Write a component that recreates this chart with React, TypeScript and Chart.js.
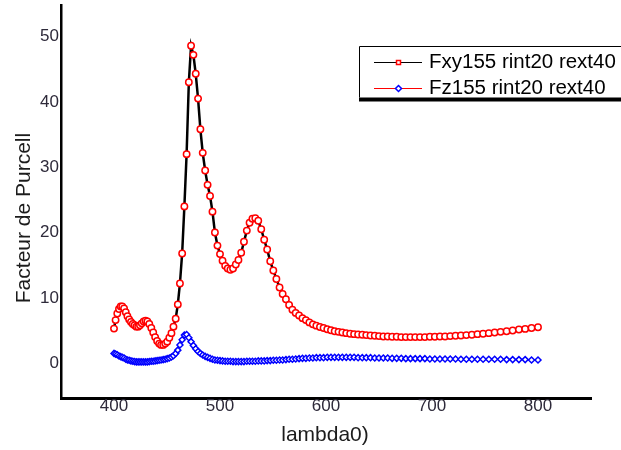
import React, { useEffect, useRef } from "react";
import { Chart, registerables } from "chart.js";

Chart.register(...registerables);

const lambdas = [
  400.0, 401.5, 403.1, 404.7, 406.3, 407.8, 409.5, 411.1, 412.7, 414.3,
  416.0, 417.7, 419.4, 421.1, 422.8, 424.5, 426.2, 428.0, 429.8, 431.5,
  433.3, 435.2, 437.0, 438.8, 440.7, 442.6, 444.4, 446.4, 448.3, 450.2,
  452.2, 454.2, 456.1, 458.2, 460.2, 462.2, 464.3, 466.4, 468.5, 470.6,
  472.7, 474.9, 477.1, 479.3, 481.5, 483.7, 486.0, 488.3, 490.6, 492.9,
  495.2, 497.6, 500.0, 502.4, 504.9, 507.3, 509.8, 512.3, 514.9, 517.4,
  520.0, 522.6, 525.3, 527.9, 530.6, 533.3, 536.1, 538.9, 541.7, 544.5,
  547.4, 550.3, 553.2, 556.2, 559.1, 562.2, 565.2, 568.3, 571.4, 574.6,
  577.8, 581.0, 584.3, 587.6, 590.9, 594.3, 597.7, 601.2, 604.7, 608.2,
  611.8, 615.4, 619.1, 622.8, 626.5, 630.3, 634.2, 638.0, 642.0, 646.0,
  650.0, 654.1, 658.2, 662.4, 666.7, 671.0, 675.3, 679.7, 684.2, 688.7,
  693.3, 698.0, 702.7, 707.5, 712.3, 717.2, 722.2, 727.3, 732.4, 737.6,
  742.9, 748.2, 753.6, 759.1, 764.7, 770.4, 776.1, 782.0, 787.9, 793.9,
  800.0,
];

const fxy155 = [
  5.3, 6.6, 7.6, 8.3, 8.7, 8.7, 8.4, 7.8, 7.2, 6.7,
  6.3, 6.0, 5.8, 5.6, 5.6, 5.8, 6.1, 6.4, 6.5, 6.4,
  6.0, 5.4, 4.7, 4.0, 3.4, 3.0, 2.8, 2.8, 3.0, 3.3,
  3.9, 4.6, 5.6, 6.8, 9.0, 12.2, 16.8, 24.0, 32.0, 43.0,
  48.6, 47.2, 44.3, 40.5, 35.8, 32.2, 29.5, 27.3, 25.6, 23.2,
  20.0, 18.0, 16.7, 15.7, 14.9, 14.5, 14.3, 14.5, 15.1, 15.8,
  16.9, 18.6, 20.3, 21.5, 22.1, 22.2, 21.8, 20.5, 18.9, 17.4,
  15.6, 14.2, 12.9, 11.6, 10.6, 9.8, 8.9, 8.2, 7.7, 7.3,
  6.9, 6.6, 6.25, 5.95, 5.75, 5.55, 5.4, 5.2, 5.05, 4.9,
  4.8, 4.7, 4.6, 4.5, 4.45, 4.4, 4.35, 4.3, 4.25, 4.2,
  4.15, 4.1, 4.1, 4.05, 4.05, 4.0, 4.0, 4.0, 4.0, 4.0,
  4.0, 4.05, 4.05, 4.1, 4.1, 4.15, 4.2, 4.25, 4.3, 4.35,
  4.45, 4.5, 4.6, 4.7, 4.8, 4.9, 5.0, 5.15, 5.25, 5.4,
  5.5,
];

const fz155 = [
  1.5, 1.4, 1.3, 1.1, 1.0, 0.9, 0.8, 0.6, 0.5, 0.45,
  0.35, 0.3, 0.25, 0.2, 0.2, 0.2, 0.2, 0.2, 0.2, 0.2,
  0.25, 0.3, 0.3, 0.35, 0.4, 0.45, 0.5, 0.55, 0.6, 0.7,
  0.8, 0.95, 1.15, 1.5, 2.0, 2.8, 3.6, 4.3, 4.4, 3.9,
  3.3, 2.7, 2.2, 1.8, 1.5, 1.25, 1.05, 0.9, 0.75, 0.6,
  0.5, 0.45, 0.4, 0.35, 0.3, 0.3, 0.3, 0.25, 0.25, 0.25,
  0.25, 0.25, 0.3, 0.3, 0.3, 0.3, 0.35, 0.35, 0.35, 0.4,
  0.4, 0.45, 0.45, 0.5, 0.5, 0.55, 0.6, 0.6, 0.65, 0.7,
  0.75, 0.75, 0.8, 0.8, 0.85, 0.85, 0.85, 0.9, 0.9, 0.9,
  0.9, 0.9, 0.9, 0.9, 0.9, 0.85, 0.85, 0.85, 0.85, 0.8,
  0.8, 0.8, 0.8, 0.75, 0.75, 0.75, 0.7, 0.7, 0.7, 0.7,
  0.7, 0.65, 0.65, 0.65, 0.65, 0.65, 0.65, 0.6, 0.6, 0.6,
  0.6, 0.6, 0.6, 0.6, 0.6, 0.55, 0.55, 0.55, 0.55, 0.5,
  0.5,
];

const xTicks = [400, 500, 600, 700, 800];
const yTicks = [0, 10, 20, 30, 40, 50];
const seriesNames = ["Fxy155 rint20 rext40", "Fz155 rint20 rext40"];
const xTitle = "lambda0)";
const yTitle = "Facteur de Purcell";

const FONT = "'Liberation Sans', Arial, sans-serif";

const overlayPlugin = {
  id: "overlay",
  afterDraw(chart: any) {
    const ctx = chart.ctx;
    ctx.save();
    // axis titles
    ctx.fillStyle = "#1c1c1c";
    ctx.font = `21px ${FONT}`;
    ctx.textAlign = "center";
    ctx.textBaseline = "alphabetic";
    ctx.fillText(xTitle, 325, 441);
    ctx.save();
    ctx.translate(30, 218);
    ctx.rotate(-Math.PI / 2);
    ctx.fillText(yTitle, 0, 0);
    ctx.restore();

    // legend box
    const bx = 359.5, by = 46.5, bw = 270, bh = 51;
    ctx.fillStyle = "#fff";
    ctx.fillRect(bx, by, bw, bh);
    ctx.strokeStyle = "#000";
    ctx.lineWidth = 1;
    ctx.beginPath();
    ctx.moveTo(bx, by + bh);
    ctx.lineTo(bx, by);
    ctx.lineTo(bx + bw, by);
    ctx.stroke();
    ctx.fillStyle = "#000";
    ctx.fillRect(bx - 0.5, by + bh, bw, 4);

    const rows = [62.5, 88.5];
    const lineCols = ["#000", "#ff0000"];
    rows.forEach((ry, i) => {
      ctx.strokeStyle = lineCols[i];
      ctx.lineWidth = 1;
      ctx.beginPath();
      ctx.moveTo(374, ry);
      ctx.lineTo(422, ry);
      ctx.stroke();
      ctx.lineWidth = 1.5;
      if (i === 0) {
        ctx.fillStyle = "#fff";
        ctx.strokeStyle = "#ff0000";
        ctx.fillRect(396.5, ry - 2, 4, 4);
        ctx.strokeRect(396.5, ry - 2, 4, 4);
      } else {
        ctx.fillStyle = "#fff";
        ctx.strokeStyle = "#0000ff";
        ctx.beginPath();
        ctx.moveTo(398.5, ry - 3);
        ctx.lineTo(401.5, ry);
        ctx.lineTo(398.5, ry + 3);
        ctx.lineTo(395.5, ry);
        ctx.closePath();
        ctx.fill();
        ctx.stroke();
      }
      ctx.fillStyle = "#000";
      ctx.font = `20.5px ${FONT}`;
      ctx.textAlign = "left";
      ctx.textBaseline = "alphabetic";
      ctx.fillText(seriesNames[i], 429, ry + 5);
    });
    ctx.restore();
  },
};

const zeroPad = (axis: any) => {
  axis.paddingTop = 0;
  axis.paddingBottom = 0;
  axis.paddingLeft = 0;
  axis.paddingRight = 0;
};

export default function App() {
  const ref = useRef<HTMLCanvasElement | null>(null);
  useEffect(() => {
    if (!ref.current) return;
    const chart = new Chart(ref.current, {
      type: "line",
      data: {
        datasets: [
          {
            label: seriesNames[0],
            data: lambdas.map((x, i) => ({ x, y: fxy155[i] })),
            borderColor: "#000",
            borderWidth: 2.5,
            pointStyle: "circle",
            pointRadius: 3.2,
            pointBorderWidth: 1.5,
            pointBorderColor: "#ff0000",
            pointBackgroundColor: "#fff",
            tension: 0,
          },
          {
            label: seriesNames[1],
            data: lambdas.map((x, i) => ({ x, y: fz155[i] })),
            borderColor: "#ff0000",
            borderWidth: 1,
            pointStyle: "rectRot",
            pointRadius: 3,
            pointBorderWidth: 1.5,
            pointBorderColor: "#0000ff",
            pointBackgroundColor: "#fff",
            tension: 0,
          },
        ],
      },
      options: {
        animation: false,
        responsive: false,
        devicePixelRatio: 1,
        layout: { padding: { left: 0, top: 5, right: 30, bottom: 0 } },
        plugins: { legend: { display: false }, tooltip: { enabled: false } },
        scales: {
          x: {
            type: "linear",
            min: 350,
            max: 850,
            grid: { display: false, drawTicks: false },
            border: { display: true, color: "#000", width: 3 },
            afterBuildTicks: (axis: any) => {
              axis.ticks = xTicks.map((v) => ({ value: v }));
            },
            afterFit: (axis: any) => {
              axis.height = 51.5;
              zeroPad(axis);
            },
            ticks: {
              padding: -2,
              color: "#2e2a3a",
              font: { family: FONT, size: 17 },
              maxRotation: 0,
              autoSkip: false,
            },
          },
          y: {
            type: "linear",
            min: -5.4,
            max: 54.75,
            grid: { display: false, drawTicks: false },
            border: { display: true, color: "#000", width: 2.5 },
            afterBuildTicks: (axis: any) => {
              axis.ticks = yTicks.map((v) => ({ value: v }));
            },
            afterFit: (axis: any) => {
              axis.width = 61;
              zeroPad(axis);
            },
            ticks: {
              padding: 2,
              color: "#2e2a3a",
              font: { family: FONT, size: 17 },
              autoSkip: false,
            },
          },
        },
      },
      plugins: [overlayPlugin],
    });
    return () => chart.destroy();
  }, []);
  return (
    <div style={{ position: "fixed", left: 0, top: 0, width: 621, height: 450, background: "#fff" }}>
      <canvas ref={ref} width={621} height={450} style={{ width: 621, height: 450 }} />
    </div>
  );
}
